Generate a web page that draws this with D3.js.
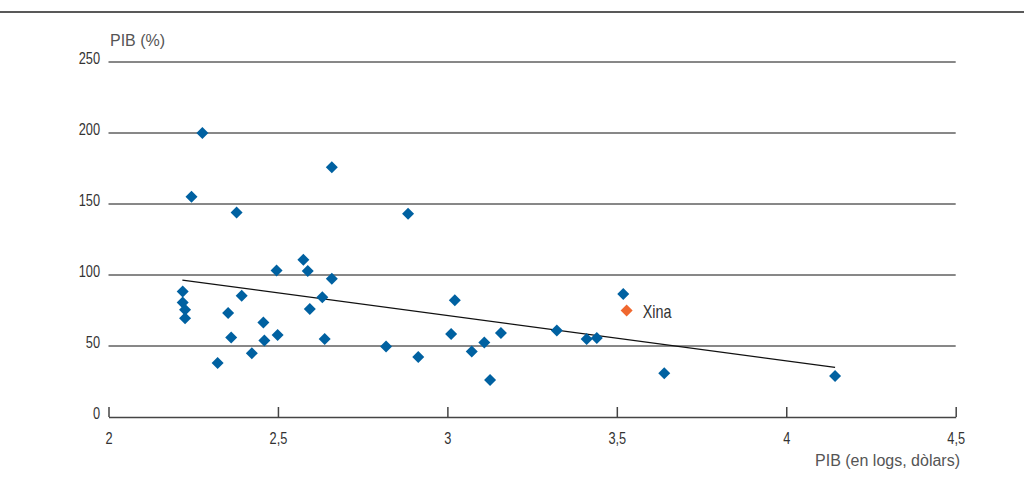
<!DOCTYPE html>
<html><head><meta charset="utf-8">
<script src="https://cdn.jsdelivr.net/npm/d3@7"></script>
<style>
html,body{margin:0;padding:0;background:#fff;}
svg{display:block;}
.cond{font-family:"Liberation Sans",Arimo,sans-serif;font-size:16px;fill:#333;}
.title{font-family:"Liberation Sans","Noto Sans",sans-serif;font-size:16px;fill:#555;}
</style></head>
<body><svg id="chart" width="1024" height="481"></svg>
<script>
// data: log GDP (x) vs value as % of GDP (y)
const pointsX = [2.277,2.245,2.378,2.659,2.884,2.219,2.219,2.226,2.226,2.353,2.393,2.362,2.457,2.460,2.423,2.322,2.499,2.496,2.575,2.588,2.659,2.631,2.594,2.638,3.022,2.819,2.914,3.011,3.072,3.109,3.158,3.126,3.323,3.411,3.441,3.519,3.640,4.144];
const pointsY = [200,155.1,144.1,175.8,143.2,88.4,80.6,75.5,69.6,73.3,85.3,55.9,66.5,53.8,44.9,38.1,57.8,103.2,110.7,102.8,97.3,84.4,76,55,82.3,49.6,42.3,58.5,46.1,52.4,59.2,26.1,60.9,55,55.7,86.7,30.8,28.9];
const chinaX = [3.529];
const chinaY = [75];
const chinaLabel = ["Xina"];
const trendX = [2.218, 4.144];
const trendY = [96.4, 35];
const xTicks = [2, 2.5, 3, 3.5, 4, 4.5];
const yTicks = [0, 50, 100, 150, 200, 250];
const yTitle = "PIB (%)";
const xTitle = "PIB (en logs, dòlars)";

const svg = d3.select("#chart");
const x = d3.scaleLinear().domain([2, 4.5]).range([108.5, 955.7]);
const y = d3.scaleLinear().domain([0, 250]).range([417, 62]);
const fmt = d => String(d).replace(".", ",");
const SX = 0.8; // horizontal condensing

// top rule
svg.append("line").attr("x1",0).attr("x2",1024).attr("y1",12).attr("y2",12)
  .attr("stroke","#222").attr("stroke-width",1.5);

// gridlines
svg.append("g").selectAll("line").data(yTicks.filter(d=>d>0)).join("line")
  .attr("x1", x(2)).attr("x2", x(4.5))
  .attr("y1", d=>y(d)).attr("y2", d=>y(d))
  .attr("stroke","#111").attr("stroke-width",1);

// y labels
svg.append("g").selectAll("text").data(yTicks).join("text")
  .attr("class","cond")
  .attr("transform", d=>`translate(100,${y(d)-4}) scale(${SX},1)`)
  .attr("text-anchor","end").attr("dominant-baseline","central")
  .text(d=>d);

// x axis
const xAxis = d3.axisBottom(x).tickValues(xTicks).tickSize(0).tickFormat(fmt);
const gx = svg.append("g").attr("transform",`translate(0,${y(0)})`).call(xAxis);
gx.attr("font-family",null).attr("font-size",null);
gx.select(".domain").attr("stroke","#444").attr("stroke-width",1.5);
gx.selectAll(".tick line").attr("y1",0).attr("y2",-10).attr("stroke","#444").attr("stroke-width",1.5);
gx.selectAll(".tick text").attr("class","cond").attr("fill","#333")
  .attr("y",null).attr("dy",null)
  .attr("dominant-baseline","central")
  .attr("transform",`translate(0,21) scale(${SX},1)`);

// titles
svg.append("text").attr("class","title").attr("x",110).attr("y",46).text(yTitle);
svg.append("text").attr("class","title").attr("x",960).attr("y",466).attr("text-anchor","end").text(xTitle);

// trend line
svg.append("path")
  .datum(trendX.map((d,i)=>[d,trendY[i]]))
  .attr("d", d3.line().x(d=>x(d[0])).y(d=>y(d[1])))
  .attr("fill","none").attr("stroke","#111").attr("stroke-width",1.3);

// points
const sym = d3.symbol().type(d3.symbolSquare).size(72);
svg.append("g").selectAll("path").data(pointsX.map((d,i)=>[d,pointsY[i]])).join("path")
  .attr("d", sym)
  .attr("transform", d=>`translate(${x(d[0])},${y(d[1])}) rotate(45)`)
  .attr("fill","#0061a1");

svg.append("g").selectAll("path").data(chinaX.map((d,i)=>[d,chinaY[i]])).join("path")
  .attr("d", sym)
  .attr("transform", d=>`translate(${x(d[0])},${y(d[1])}) rotate(45)`)
  .attr("fill","#f0682f");

svg.append("g").selectAll("text").data(chinaX.map((d,i)=>[d,chinaY[i],chinaLabel[i]])).join("text")
  .attr("class","cond")
  .attr("transform", d=>`translate(${x(d[0])+16},${y(d[1])+1}) scale(${SX},1)`)
  .attr("dominant-baseline","central")
  .style("font-size","18px").attr("fill","#222")
  .text(d=>d[2]);
</script></body></html>
